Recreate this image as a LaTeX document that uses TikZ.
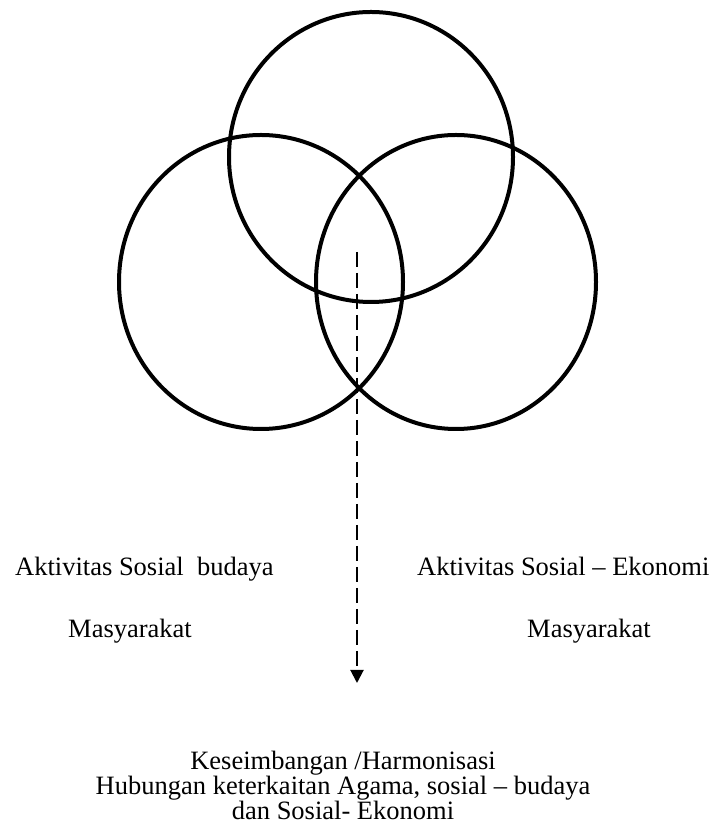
\documentclass[tikz,border=0pt]{standalone}
\usepackage{fontspec}
\setmainfont{Liberation Serif}
\usetikzlibrary{arrows.meta}

\begin{document}
\begin{tikzpicture}[x=1pt,y=1pt,
  ring/.style={line width=4pt},
  lbl/.style={font=\fontsize{26.5}{25.5}\selectfont,inner sep=0pt}]
\useasboundingbox (0,0) rectangle (715,827);

\draw[ring] (371,670) ellipse [x radius=142,y radius=145];
\draw[ring] (261,545) ellipse [x radius=142,y radius=147];
\draw[ring] (456,545) ellipse [x radius=140,y radius=147];

\coordinate (mid) at (357,575);
\coordinate (tip) at (357,144);
\draw[line width=2pt,dash pattern=on 15pt off 6pt,-{Triangle[width=13pt,length=13pt]}] (mid) -- (tip);

\node[lbl,anchor=base west] (budaya) at (15,251) {Aktivitas Sosial\ \ budaya};
\node[lbl,anchor=base west] (masyL) at (68,189) {Masyarakat};
\node[lbl,anchor=base west] (ekonomi) at (417,251) {Aktivitas Sosial -- Ekonomi};
\node[lbl,anchor=base west] (masyR) at (527,189) {Masyarakat};

\node[lbl,anchor=base] (harm) at (343,57) {Keseimbangan /Harmonisasi};
\node[lbl,anchor=base] (hub) at (343,32) {Hubungan keterkaitan Agama, sosial -- budaya};
\node[lbl,anchor=base] (dan) at (343,7) {dan Sosial- Ekonomi};
\end{tikzpicture}
\end{document}
